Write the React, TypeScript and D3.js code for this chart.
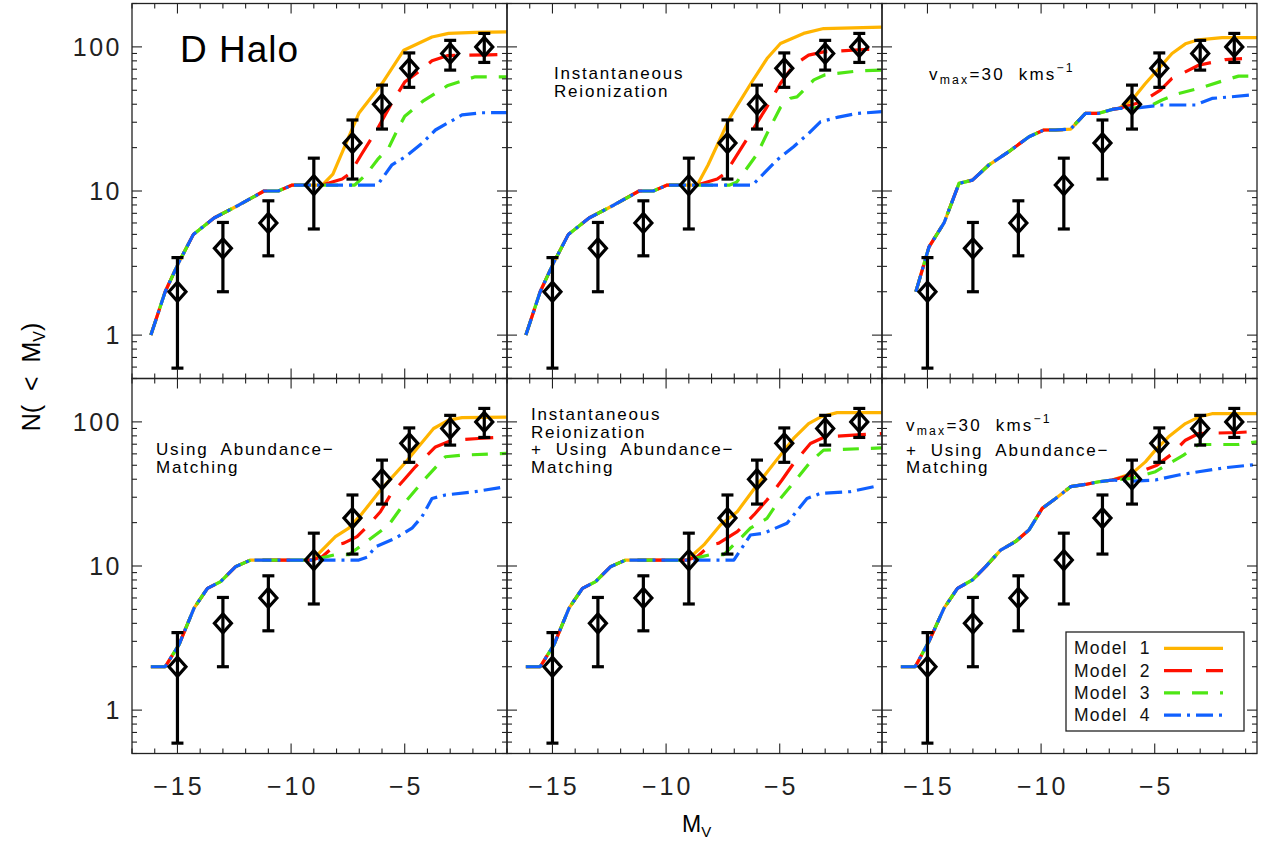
import React from 'react';
import * as d3 from 'd3';

type Pt = [number, number];

// Observed satellites (same in every panel)
const obsMv = [-15, -13, -11, -9, -7.3, -6.0, -4.8, -3.0, -1.5];
const obsN = [2, 4, 6, 11, 21.5, 40, 71, 90, 100];
const obsLow = [0.59, 2.0, 3.55, 5.45, 12.1, 26.9, 52.4, 69, 78];
const obsHigh = [3.45, 6.05, 8.55, 16.9, 31.1, 54.3, 90.8, 111, 124];

const xTickLabels = [-15, -10, -5];
const yTickLabels = [1, 10, 100];
const modelNames = ['Model  1', 'Model  2', 'Model  3', 'Model  4'];

// Shared (overlapping) parts of the model curves
const commonHalo: Pt[] = [[-16.17, 1], [-15.54, 2], [-14.96, 3.15], [-14.3, 5], [-13.39, 6.5], [-12.29, 8], [-11.19, 10], [-10.56, 10], [-9.95, 11], [-8.63, 11]];
const commonVmax: Pt[] = [[-15.51, 2], [-14.93, 4.1], [-14.27, 6], [-13.61, 11.3], [-13.02, 11.9], [-12.29, 15.2], [-11.41, 18.8], [-10.53, 23.8], [-9.88, 26.5], [-9.36, 26.5], [-8.7, 26.9], [-8.05, 34.6], [-7.46, 34.6], [-6.87, 36.8], [-6.58, 37.4]];
const commonAbund: Pt[] = [[-16.17, 2], [-15.54, 2], [-14.93, 2.85], [-14.27, 5.1], [-13.68, 7.0], [-13.1, 7.8], [-12.44, 9.9], [-11.78, 11], [-9.07, 11]];
const commonVmaxAbund: Pt[] = [[-16.17, 2], [-15.54, 2], [-14.93, 3.0], [-14.27, 5.1], [-13.68, 7], [-13.02, 8], [-12.44, 9.9], [-11.78, 12.9], [-11.12, 14.8], [-10.53, 17.8], [-9.95, 25.1], [-9.36, 29.4], [-8.7, 35.5], [-8.05, 36.8], [-7.46, 38.4], [-6.87, 39.5]];

// Panel 1: D Halo
const haloM1: Pt[] = [[-8.16, 13.1], [-7.02, 34.6], [-6.0, 55.7], [-5.04, 94.8], [-3.8, 117], [-3.07, 124], [-1.9, 126], [-0.5, 127]];
const haloM2: Pt[] = [[-7.75, 12.1], [-7.4, 13.3], [-6.9, 18], [-6.2, 27], [-5.6, 40], [-5.0, 57], [-4.4, 67], [-3.8, 80], [-3.1, 87], [-1.3, 88], [-0.5, 89]];
const haloM3: Pt[] = [[-7.2, 11], [-6.7, 13], [-6.2, 16.5], [-5.7, 20], [-5.3, 27], [-5.0, 33], [-4.8, 35], [-4.2, 42], [-3.1, 54], [-1.9, 62], [-0.5, 62]];
const haloM4: Pt[] = [[-6.2, 11], [-5.56, 15.2], [-4.97, 17.3], [-4.24, 21.4], [-3.65, 26.5], [-2.48, 33.7], [-1.6, 34.9], [-0.5, 35]];

// Panel 2: Instantaneous Reionization
const reionM1: Pt[] = [[-8.16, 15.1], [-7.17, 32.8], [-6.22, 57.3], [-5.56, 83], [-4.97, 105.5], [-3.95, 124], [-3.07, 134], [-0.5, 137]];
const reionM2: Pt[] = [[-7.75, 12.1], [-7.39, 13.3], [-6.65, 20.3], [-5.56, 38.4], [-4.97, 55.7], [-4.38, 74.6], [-3.73, 87.6], [-3.07, 92.3], [-1.31, 95.9], [-0.5, 96]];
const reionM3: Pt[] = [[-7.2, 11], [-6.9, 11.5], [-6.6, 13.3], [-6.0, 18], [-5.56, 25], [-4.97, 38], [-4.53, 44], [-4.24, 45], [-3.5, 59], [-3.0, 64], [-1.6, 68], [-0.5, 69]];
const reionM4: Pt[] = [[-6.2, 11], [-5.12, 16.4], [-4.39, 20.3], [-3.73, 25.1], [-3.21, 30.2], [-2.48, 32.4], [-1.6, 34.5], [-0.5, 35.5]];

// Panel 3: vmax = 30 km/s
const vmaxM1: Pt[] = [[-6.0, 42.8], [-5.41, 55.7], [-4.82, 70.8], [-4.24, 90], [-3.65, 105], [-3.07, 112], [-2.04, 116], [-0.5, 116]];
const vmaxM2: Pt[] = [[-5.56, 41.6], [-4.75, 50.1], [-4.24, 60.4], [-3.07, 74.6], [-1.9, 81.7], [-1.16, 83]];
const vmaxM3: Pt[] = [[-6.0, 37.4], [-5.12, 39.5], [-4.68, 42.8], [-3.95, 47.5], [-3.07, 51.5], [-1.9, 58.8], [-1.31, 62.7], [-0.5, 62.7]];
const vmaxM4: Pt[] = [[-6.0, 37.4], [-4.68, 39.5], [-3.21, 39.5], [-2.48, 43.9], [-1.6, 45.1], [-0.8, 46.3]];

// Panel 4: Abundance matching
const abundM1: Pt[] = [[-8.05, 16], [-7.46, 18.3], [-6.87, 23.2], [-6.0, 34.6], [-4.97, 52.3], [-3.73, 90], [-3.07, 102.8], [-2.48, 107], [-0.5, 108]];
const abundM2: Pt[] = [[-8.63, 11.6], [-8.05, 14], [-7.68, 14.4], [-7.1, 16], [-6.58, 19.3], [-6.07, 23.8], [-5.63, 31.1], [-5.04, 39.5], [-4.53, 48.8], [-3.65, 67], [-2.92, 74.6], [-1.75, 76.7], [-0.5, 78.8]];
const abundM3: Pt[] = [[-8.05, 12], [-7.46, 12], [-6.87, 14], [-5.7, 19.3], [-4.97, 27.9], [-4.09, 40.5], [-3.21, 57.3], [-2.48, 58.8], [-0.5, 60.4]];
const abundM4: Pt[] = [[-7.02, 11], [-6.65, 11.5], [-6.29, 13.6], [-5.41, 15.6], [-4.68, 18.3], [-4.24, 22], [-3.8, 29.4], [-3.21, 31.1], [-1.9, 32.8], [-0.8, 35]];

// Panel 5: Instantaneous Reionization + Abundance matching
const reionAbundM1: Pt[] = [[-8.34, 14], [-7.6, 19.3], [-6.87, 23.8], [-6.0, 36.5], [-4.97, 58.8], [-4.39, 76.7], [-3.73, 97.3], [-3.21, 108], [-2.48, 116], [-0.5, 116]];
const reionAbundM2: Pt[] = [[-8.63, 11.6], [-8.05, 14], [-7.68, 14.4], [-6.87, 17.3], [-6.14, 22.6], [-5.56, 28.7], [-4.9, 39.5], [-4.39, 51.5], [-3.65, 70.8], [-3.0, 78.8], [-1.75, 80.9], [-0.5, 83]];
const reionAbundM3: Pt[] = [[-8.05, 12], [-7.46, 12], [-6.87, 14.8], [-6.29, 18.3], [-5.56, 21.4], [-4.97, 29.4], [-4.24, 40.5], [-3.65, 52.8], [-3.07, 63.7], [-0.5, 66]];
const reionAbundM4: Pt[] = [[-7.02, 11], [-6.29, 16.4], [-5.7, 16.9], [-4.68, 19.8], [-3.8, 29.4], [-3.21, 31.9], [-1.9, 32.8], [-0.87, 35.5]];

// Panel 6: vmax + Abundance matching
const vmaxAbundM1: Pt[] = [[-6.0, 43.9], [-5.41, 52.8], [-4.97, 63.7], [-4.39, 78.8], [-3.65, 97.3], [-3.07, 108], [-2.48, 114], [-0.5, 114]];
const vmaxAbundM2: Pt[] = [[-6.0, 42.8], [-4.9, 50.1], [-4.31, 58.8], [-3.65, 74.6], [-3.07, 83], [-1.31, 84.4], [-0.5, 86]];
const vmaxAbundM3: Pt[] = [[-6.0, 40.5], [-4.97, 45.1], [-4.24, 52.8], [-3.73, 58.8], [-3.07, 69.7], [-1.31, 69.7], [-0.5, 72.7]];
const vmaxAbundM4: Pt[] = [[-6.0, 38.8], [-4.97, 39.5], [-3.95, 42.8], [-3.07, 45.1], [-1.9, 48.1], [-0.5, 50.7]];

const modelColors = ['#ffb400', '#ff1000', '#4ee614', '#1060ff'];
const modelDash = ['none', '28,14', '16,12', '17,6,3,6'];

const FONT = '"Liberation Sans", Arial, sans-serif';

type Label = { lines: string[]; size: number; x: number; ys: number[] };
type Panel = { common: Pt[]; tails: Pt[][]; label: Label };

const panels: Panel[] = [
  { common: commonHalo, tails: [haloM1, haloM2, haloM3, haloM4], label: { lines: ['D Halo'], size: 37, x: 48, ys: [58.5] } },
  { common: commonHalo, tails: [reionM1, reionM2, reionM3, reionM4], label: { lines: ['Instantaneous', 'Reionization'], size: 17, x: 47, ys: [75.5, 93.7] } },
  { common: commonVmax, tails: [vmaxM1, vmaxM2, vmaxM3, vmaxM4], label: { lines: ['VMAX'], size: 17, x: 47, ys: [76] } },
  { common: commonAbund, tails: [abundM1, abundM2, abundM3, abundM4], label: { lines: ['Using  Abundance\u2212', 'Matching'], size: 17, x: 24, ys: [76.5, 94.3] } },
  { common: commonAbund, tails: [reionAbundM1, reionAbundM2, reionAbundM3, reionAbundM4], label: { lines: ['Instantaneous', 'Reionization', '+  Using  Abundance\u2212', 'Matching'], size: 17, x: 24, ys: [41.5, 59, 76.5, 94.3] } },
  { common: commonVmaxAbund, tails: [vmaxAbundM1, vmaxAbundM2, vmaxAbundM3, vmaxAbundM4], label: { lines: ['VMAX', '+  Using  Abundance\u2212', 'Matching'], size: 17, x: 24, ys: [52.5, 77, 94.8] } },
];

const LEFT = 132;
const TOP = 3.5;
const PW = 375;
const PH = 375;

function VmaxText({ x, y, size }: { x: number; y: number; size: number }) {
  return (
    <text x={x} y={y} fontSize={size} fontFamily={FONT} letterSpacing={2.2} fill="#000" style={{ whiteSpace: 'pre' }}>
      v
      <tspan fontSize={size * 0.72} dy={4}>max</tspan>
      <tspan dy={-4}>=30  kms</tspan>
      <tspan fontSize={size * 0.72} dy={-8}>{'\u22121'}</tspan>
    </text>
  );
}

function PanelView({ p, idx }: { p: Panel; idx: number }) {
  const col = idx % 3;
  const row = Math.floor(idx / 3);
  const x0 = LEFT + col * PW;
  const y0 = TOP + row * PH;
  const x = d3.scaleLinear().domain([-17, -0.5]).range([x0, x0 + PW]);
  const y = d3.scaleLog().domain([0.5, 200]).range([y0 + PH, y0]);
  const line = d3.line<Pt>().x((d) => x(d[0])).y((d) => y(d[1]));
  const clipId = `clip${idx}`;

  const xMinor = d3.range(-17, 0, 1);
  const yMinor: number[] = [];
  [0.1, 1, 10, 100].forEach((dec) => {
    for (let k = 1; k <= 9; k++) {
      const v = dec * k;
      if (v >= 0.5 && v <= 200) yMinor.push(v);
    }
  });

  const ticks: JSX.Element[] = [];
  xMinor.forEach((v, i) => {
    const L = xTickLabels.includes(v) ? 10 : 5;
    const px = x(v);
    ticks.push(<line key={`xb${i}`} x1={px} x2={px} y1={y0 + PH} y2={y0 + PH - L} />);
    ticks.push(<line key={`xt${i}`} x1={px} x2={px} y1={y0} y2={y0 + L} />);
  });
  yMinor.forEach((v, i) => {
    const L = yTickLabels.includes(v) ? 10 : 5;
    const py = y(v);
    ticks.push(<line key={`yl${i}`} x1={x0} x2={x0 + L} y1={py} y2={py} />);
    ticks.push(<line key={`yr${i}`} x1={x0 + PW} x2={x0 + PW - L} y1={py} y2={py} />);
  });

  const lab = p.label;
  return (
    <g>
      <defs>
        <clipPath id={clipId}>
          <rect x={x0} y={y0} width={PW} height={PH} />
        </clipPath>
      </defs>
      <g clipPath={`url(#${clipId})`}>
        {p.tails.map((tail, m) => (
          <path
            key={m}
            d={line([...p.common, ...tail]) || ''}
            fill="none"
            stroke={modelColors[m]}
            strokeWidth={3.2}
            strokeDasharray={modelDash[m]}
            strokeLinejoin="round"
          />
        ))}
      </g>
      <g stroke="#000" strokeWidth={3.2} fill="none">
        {obsMv.map((mv, i) => {
          const cx = x(mv);
          const cy = y(obsN[i]);
          const yl = y(obsLow[i]);
          const yh = y(obsHigh[i]);
          return (
            <g key={i}>
              <line x1={cx} x2={cx} y1={yl} y2={yh} />
              <line x1={cx - 6} x2={cx + 6} y1={yl} y2={yl} />
              <line x1={cx - 6} x2={cx + 6} y1={yh} y2={yh} />
              <path d={`M${cx - 8.5},${cy} L${cx},${cy - 9.5} L${cx + 8.5},${cy} L${cx},${cy + 9.5} Z`} />
            </g>
          );
        })}
      </g>
      <rect x={x0} y={y0} width={PW} height={PH} fill="none" stroke="#222" strokeWidth={1.3} />
      <g stroke="#222" strokeWidth={1.1}>{ticks}</g>
      {col === 0 &&
        yTickLabels.map((v) => (
          <text key={v} x={x0 - 10} y={y(v) + 9} textAnchor="end" fontSize={25} fontFamily={FONT} letterSpacing={2.5} fill="#222">
            {String(v)}
          </text>
        ))}
      {row === 1 &&
        xTickLabels.map((v) => (
          <text key={v} x={x(v) + 1.5} y={795} textAnchor="middle" fontSize={25} fontFamily={FONT} letterSpacing={3} fill="#222">
            {'\u2212' + String(Math.abs(v))}
          </text>
        ))}
      {lab.lines.map((t, i) =>
        t === 'VMAX' ? (
          <VmaxText key={i} x={x0 + lab.x} y={y0 + lab.ys[i]} size={lab.size} />
        ) : (
          <text key={i} x={x0 + lab.x} y={y0 + lab.ys[i]} fontSize={lab.size} fontFamily={FONT} letterSpacing={lab.size > 30 ? 1 : 1.8} fill="#000" style={{ whiteSpace: 'pre' }}>
            {t}
          </text>
        )
      )}
    </g>
  );
}

export default function App() {
  const lx0 = 1066;
  const ly0 = 632;
  return (
    <svg width={1263} height={844} style={{ position: 'absolute', left: 0, top: 0, background: '#fff' }}>
      <rect x={0} y={0} width={1263} height={844} fill="#fff" />
      {panels.map((p, i) => (
        <PanelView key={i} p={p} idx={i} />
      ))}
      {/* legend */}
      <rect x={lx0} y={ly0} width={178} height={99} fill="#fff" stroke="#222" strokeWidth={1.3} />
      {modelNames.map((name, i) => {
        const by = 654.3 + i * 22.3;
        return (
          <g key={name}>
            <text x={lx0 + 8} y={by} fontSize={17.5} fontFamily={FONT} letterSpacing={1.2} fill="#111" style={{ whiteSpace: 'pre' }}>
              {name}
            </text>
            <line x1={1164} x2={1223} y1={by - 6} y2={by - 6} stroke={modelColors[i]} strokeWidth={3.2} strokeDasharray={modelDash[i]} />
          </g>
        );
      })}
      {/* axis titles */}
      <text x={682} y={832} fontSize={23} fontFamily={FONT} fill="#000">
        M<tspan fontSize={15} dy={5}>V</tspan>
      </text>
      <text transform="translate(40,377) rotate(-90)" textAnchor="middle" fontSize={25} fontFamily={FONT} fill="#000" style={{ whiteSpace: 'pre' }}>
        N(  &lt;  M<tspan fontSize={16} dy={5}>V</tspan><tspan dy={-5}>)</tspan>
      </text>
    </svg>
  );
}
